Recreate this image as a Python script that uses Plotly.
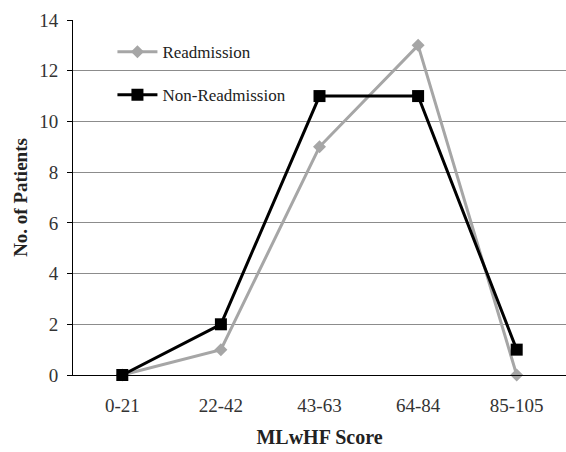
import plotly.graph_objects as go

categories = ["0-21", "22-42", "43-63", "64-84", "85-105"]
readmission = [0, 1, 9, 13, 0]
non_readmission = [0, 2, 11, 11, 1]
y_ticks = [0, 2, 4, 6, 8, 10, 12, 14]

FONT = "Times New Roman, Liberation Serif, DejaVu Serif, serif"

fig = go.Figure()
fig.add_trace(go.Scatter(
    x=categories, y=readmission, name="Readmission", mode="lines+markers",
    line=dict(color="#a6a6a6", width=3),
    marker=dict(symbol="diamond", size=10, color="#a6a6a6"),
    cliponaxis=False, legendgroup="a",
))
fig.add_trace(go.Scatter(
    x=categories, y=non_readmission, name="Non-Readmission", mode="lines+markers",
    line=dict(color="#000000", width=3),
    marker=dict(symbol="square", size=12, color="#000000"),
    cliponaxis=False, legendgroup="b",
))

fig.update_layout(
    width=566, height=452,
    margin=dict(l=73, r=0, t=20, b=77),
    paper_bgcolor="white", plot_bgcolor="white",
    font=dict(family=FONT, size=18, color="#333333"),
    showlegend=True,
    legend=dict(
        x=0.08, y=0.96, xanchor="left", yanchor="top",
        bgcolor="rgba(0,0,0,0)", font=dict(family=FONT, size=17, color="#222222"),
        tracegroupgap=18, itemwidth=40,
    ),
    xaxis=dict(
        type="category", range=[-0.5, 4.5],
        showline=True, linecolor="#000000", linewidth=1,
        showgrid=False, ticks="", ticklabelstandoff=13,
        tickfont=dict(family=FONT, size=19, color="#333333"),
        title=dict(text="<b>MLwHF Score</b>", font=dict(family=FONT, size=20, color="#222222"), standoff=15),
    ),
    yaxis=dict(
        range=[0, 14], tickvals=y_ticks, showline=True, linecolor="#000000", linewidth=1,
        showgrid=True, gridcolor="#8c8c8c", gridwidth=1, zeroline=False,
        ticks="outside", ticklen=5, tickcolor="#000000", ticklabelstandoff=5,
        tickfont=dict(family=FONT, size=19, color="#333333"),
        title=dict(text="<b>No. of Patients</b>", font=dict(family=FONT, size=19, color="#222222"), standoff=6),
    ),
)

fig.write_html("out.html")
